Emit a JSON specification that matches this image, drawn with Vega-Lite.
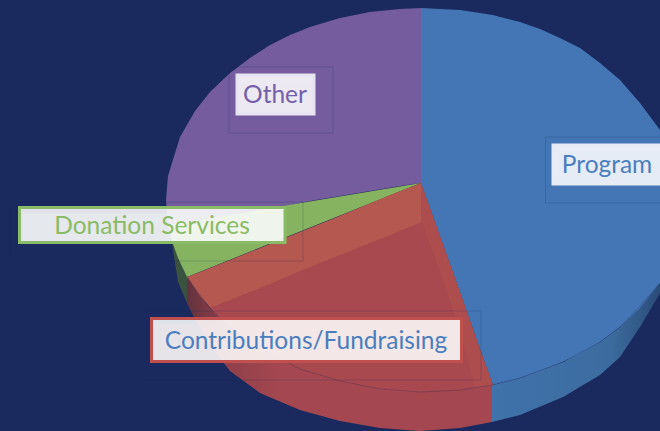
{"$schema":"https://vega.github.io/schema/vega-lite/v6.json","width":660,"height":431,"padding":0,"autosize":{"type":"none"},"background":"#1b2a5e","view":{"stroke":null},
"datasets":{
"walls":[
{"slice":"Donation Services","x":170,"y":228,"y2":230},{"slice":"Donation Services","x":178,"y":258,"y2":282},{"slice":"Donation Services","x":187,"y":276,"y2":303},
{"slice":"Contributions/Fundraising","x":187,"y":276,"y2":303},{"slice":"Contributions/Fundraising","x":193,"y":286,"y2":315},{"slice":"Contributions/Fundraising","x":210,"y":308,"y2":345},{"slice":"Contributions/Fundraising","x":230,"y":327,"y2":371},{"slice":"Contributions/Fundraising","x":260,"y":348,"y2":393},{"slice":"Contributions/Fundraising","x":300,"y":369,"y2":410},{"slice":"Contributions/Fundraising","x":340,"y":381,"y2":421},{"slice":"Contributions/Fundraising","x":380,"y":389,"y2":428},{"slice":"Contributions/Fundraising","x":420,"y":392,"y2":431},{"slice":"Contributions/Fundraising","x":460,"y":390,"y2":428},{"slice":"Contributions/Fundraising","x":492,"y":385,"y2":422},
{"slice":"Program","x":492,"y":385,"y2":422},{"slice":"Program","x":520,"y":378,"y2":415},{"slice":"Program","x":563,"y":362,"y2":397},{"slice":"Program","x":600,"y":342,"y2":375},{"slice":"Program","x":620,"y":327,"y2":357},{"slice":"Program","x":640,"y":306,"y2":327},{"slice":"Program","x":660,"y":283,"y2":293}],
"faces":[
{"slice":"Other","x":166,"y":200,"y2":200},{"slice":"Other","x":168,"y":176,"y2":224},{"slice":"Other","x":180,"y":137,"y2":223},{"slice":"Other","x":195,"y":111,"y2":220},{"slice":"Other","x":210,"y":92,"y2":218},{"slice":"Other","x":230,"y":73,"y2":215},{"slice":"Other","x":250,"y":58,"y2":211},{"slice":"Other","x":270,"y":45,"y2":208},{"slice":"Other","x":290,"y":35,"y2":205},{"slice":"Other","x":310,"y":27,"y2":201},{"slice":"Other","x":340,"y":18,"y2":196},{"slice":"Other","x":370,"y":12,"y2":191},{"slice":"Other","x":400,"y":9,"y2":186},{"slice":"Other","x":421,"y":8,"y2":183},
{"slice":"Donation Services","x":168.3,"y":225,"y2":225},{"slice":"Donation Services","x":172,"y":224,"y2":241},{"slice":"Donation Services","x":178,"y":223,"y2":258},{"slice":"Donation Services","x":187,"y":222,"y2":277},{"slice":"Donation Services","x":421,"y":183,"y2":183},
{"slice":"Contributions/Fundraising","x":187,"y":277,"y2":277},{"slice":"Contributions/Fundraising","x":200,"y":272,"y2":296},{"slice":"Contributions/Fundraising","x":215,"y":266,"y2":313},{"slice":"Contributions/Fundraising","x":230,"y":260,"y2":327},{"slice":"Contributions/Fundraising","x":250,"y":252,"y2":342},{"slice":"Contributions/Fundraising","x":270,"y":244,"y2":355},{"slice":"Contributions/Fundraising","x":300,"y":232,"y2":369},{"slice":"Contributions/Fundraising","x":330,"y":220,"y2":379},{"slice":"Contributions/Fundraising","x":360,"y":207.5,"y2":386},{"slice":"Contributions/Fundraising","x":390,"y":195,"y2":391},{"slice":"Contributions/Fundraising","x":421,"y":183,"y2":392},{"slice":"Contributions/Fundraising","x":440,"y":236,"y2":391},{"slice":"Contributions/Fundraising","x":460,"y":292,"y2":390},{"slice":"Contributions/Fundraising","x":480,"y":349,"y2":387},{"slice":"Contributions/Fundraising","x":493,"y":385,"y2":385},
{"slice":"Program","x":421,"y":8,"y2":183},{"slice":"Program","x":440,"y":9,"y2":236},{"slice":"Program","x":460,"y":10,"y2":292},{"slice":"Program","x":480,"y":13,"y2":349},{"slice":"Program","x":493,"y":15,"y2":385},{"slice":"Program","x":500,"y":17,"y2":383},{"slice":"Program","x":520,"y":22,"y2":378},{"slice":"Program","x":540,"y":29,"y2":371},{"slice":"Program","x":560,"y":38,"y2":363},{"slice":"Program","x":580,"y":48,"y2":354},{"slice":"Program","x":600,"y":63,"y2":342},{"slice":"Program","x":620,"y":80,"y2":327},{"slice":"Program","x":640,"y":103,"y2":308},{"slice":"Program","x":660,"y":130,"y2":283}],
"strip":[{"x":421,"y":183,"y2":392},{"x":440,"y":236,"y2":391},{"x":460,"y":292,"y2":390},{"x":480,"y":349,"y2":387},{"x":493,"y":385,"y2":385}],
"shade":[
{"x":210,"y":308,"y2":308},{"x":230,"y":300,"y2":327},{"x":250,"y":292,"y2":342},{"x":270,"y":284,"y2":355},{"x":300,"y":271,"y2":369},{"x":330,"y":259,"y2":379},{"x":360,"y":247,"y2":386},{"x":390,"y":235,"y2":391},{"x":422,"y":222,"y2":392},{"x":440,"y":272,"y2":391},{"x":460,"y":330,"y2":390},{"x":475,"y":388,"y2":388}],
"labels":[
{"label":"Other","x":237,"x2":314,"y":75,"y2":114,"ox":229,"ox2":333,"oy":67,"oy2":133,"tx":275,"ty":96},
{"label":"Program","x":553,"x2":664,"y":145,"y2":184,"ox":545.5,"ox2":670,"oy":137,"oy2":203,"tx":607,"ty":166},
{"label":"Donation Services","x":19.5,"x2":285,"y":207.5,"y2":242.5,"ox":10,"ox2":303,"oy":202,"oy2":261,"tx":152,"ty":227},
{"label":"Contributions/Fundraising","x":151.5,"x2":461.5,"y":318.5,"y2":361.5,"ox":140,"ox2":481,"oy":311,"oy2":380,"tx":306,"ty":342}]},
"layer":[
{"data":{"name":"walls"},"transform":[{"filter":"datum.slice==='Donation Services'"}],"mark":{"type":"area","color":"#3a5240"},"encoding":{"x":{"field":"x","type":"quantitative","axis":null,"scale":{"domain":[0,660],"nice":false,"zero":false}},"y":{"field":"y","type":"quantitative","axis":null,"scale":{"domain":[431,0],"nice":false,"zero":false}},"y2":{"field":"y2"}}},
{"data":{"name":"walls"},"transform":[{"filter":"datum.slice==='Contributions/Fundraising'"}],"mark":{"type":"area","color":{"gradient":"linear","x1":0,"x2":1,"y1":0,"y2":0,"stops":[{"offset":0,"color":"#63323f"},{"offset":0.12,"color":"#8f3f4a"},{"offset":0.3,"color":"#a44750"},{"offset":1,"color":"#a44750"}]}},"encoding":{"x":{"field":"x","type":"quantitative"},"y":{"field":"y","type":"quantitative"},"y2":{"field":"y2"}}},
{"data":{"name":"walls"},"transform":[{"filter":"datum.slice==='Program'"}],"mark":{"type":"area","color":{"gradient":"linear","x1":0,"x2":1,"y1":0,"y2":0,"stops":[{"offset":0,"color":"#4072ab"},{"offset":0.7,"color":"#3c6c9f"},{"offset":1,"color":"#2b4c78"}]}},"encoding":{"x":{"field":"x","type":"quantitative"},"y":{"field":"y","type":"quantitative"},"y2":{"field":"y2"}}},
{"data":{"name":"faces"},"mark":{"type":"area","clip":true},"encoding":{"x":{"field":"x","type":"quantitative"},"y":{"field":"y","type":"quantitative"},"y2":{"field":"y2"},"color":{"field":"slice","type":"nominal","legend":null,"scale":{"domain":["Program","Contributions/Fundraising","Donation Services","Other"],"range":["#4476b6","#b5584f","#86b360","#745c9e"]}}}},
{"data":{"name":"strip"},"mark":{"type":"area","color":"#ad4d4e"},"encoding":{"x":{"field":"x","type":"quantitative"},"y":{"field":"y","type":"quantitative"},"y2":{"field":"y2"}}},
{"data":{"name":"shade"},"mark":{"type":"area","color":"#a8484f"},"encoding":{"x":{"field":"x","type":"quantitative"},"y":{"field":"y","type":"quantitative"},"y2":{"field":"y2"}}},
{"data":{"name":"walls"},"transform":[{"filter":"datum.slice!=='Donation Services'"}],"mark":{"type":"line","color":"#2b2b55","opacity":0.3,"strokeWidth":1},"encoding":{"x":{"field":"x","type":"quantitative"},"y":{"field":"y","type":"quantitative"},"detail":{"field":"slice"}}},
{"data":{"name":"labels"},"mark":{"type":"rect","fill":null,"stroke":"#1b2a5e","strokeOpacity":0.2,"strokeWidth":1},"encoding":{"x":{"field":"ox","type":"quantitative"},"x2":{"field":"ox2"},"y":{"field":"oy","type":"quantitative"},"y2":{"field":"oy2"}}},
{"data":{"name":"labels"},"mark":{"type":"rect","opacity":0.3,"xOffset":3,"yOffset":6},"encoding":{"x":{"field":"x","type":"quantitative"},"x2":{"field":"x2"},"y":{"field":"y","type":"quantitative"},"y2":{"field":"y2"},"color":{"field":"label","type":"nominal","legend":null,"scale":{"domain":["Other","Program","Donation Services","Contributions/Fundraising"],"range":["#5f4b8a","#3a629c","#8aa88a","#a34045"]}}}},
{"data":{"name":"labels"},"mark":{"type":"rect","fill":"#ffffff","fillOpacity":0.87,"strokeWidth":3},"encoding":{"x":{"field":"x","type":"quantitative"},"x2":{"field":"x2"},"y":{"field":"y","type":"quantitative"},"y2":{"field":"y2"},"stroke":{"field":"label","type":"nominal","legend":null,"scale":{"domain":["Other","Program","Donation Services","Contributions/Fundraising"],"range":["#e6e4f0","#e6ebf5","#8abb66","#c0504d"]}}}},
{"data":{"name":"labels"},"mark":{"type":"text","font":"Lato","fontSize":24.5,"align":"center","baseline":"middle"},"encoding":{"x":{"field":"tx","type":"quantitative"},"y":{"field":"ty","type":"quantitative"},"text":{"field":"label","type":"nominal"},"color":{"field":"label","type":"nominal","legend":null,"scale":{"domain":["Other","Program","Donation Services","Contributions/Fundraising"],"range":["#7360a8","#4a7ebf","#8abb66","#4a7ebf"]}}}}
],"resolve":{"scale":{"color":"independent"}}}
